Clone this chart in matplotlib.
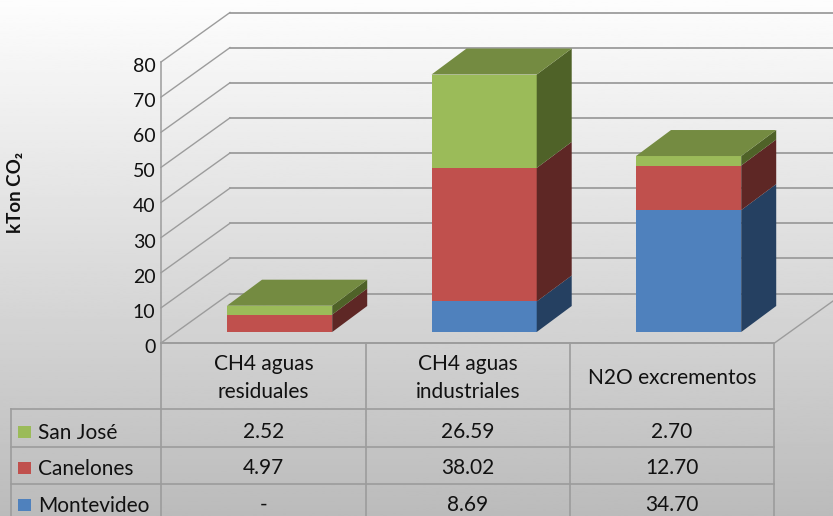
import numpy as np
import matplotlib
matplotlib.use('Agg')
import matplotlib.pyplot as plt
from matplotlib.patches import Polygon, Rectangle
from matplotlib.transforms import Affine2D

plt.rcParams['font.family'] = ['Lato', 'DejaVu Sans']

categories = ['CH4 aguas\nresiduales', 'CH4 aguas\nindustriales', 'N2O excrementos']
series = ['San José', 'Canelones', 'Montevideo']
san_jose = [2.52, 26.59, 2.70]
canelones = [4.97, 38.02, 12.70]
montevideo = [0, 8.69, 34.70]
table_rows = [['2.52', '26.59', '2.70'],
              ['4.97', '38.02', '12.70'],
              ['-', '8.69', '34.70']]
yticks = list(range(0, 90, 10))

front_cols = {'San José': '#9BBB59', 'Canelones': '#C0504D', 'Montevideo': '#4F81BD'}
side_cols = {'San José': '#4F6228', 'Canelones': '#5E2725', 'Montevideo': '#254061'}
top_col = '#748B41'
line_col = '#9C9C9C'
text_col = '#111111'

fig = plt.figure(figsize=(8.33, 5.16), dpi=100)

# background and table live in a pixel sized axes
bg = fig.add_axes([0, 0, 1, 1], zorder=0)
bg.set_xlim(0, 833)
bg.set_ylim(516, 0)
bg.axis('off')
grad = np.linspace(253, 187, 256).reshape(-1, 1)
bg.imshow(grad, cmap='gray', vmin=0, vmax=255, extent=[0, 833, 516, 0], aspect='auto')

# plot area is the front plane of the 3d box
ax = fig.add_axes([161 / 833, (516 - 343) / 516, 613.5 / 833, 281 / 516], zorder=1)
ax.patch.set_alpha(0)
ax.set_xlim(-0.5, 2.5)
ax.set_ylim(0, 80)
for s in ['top', 'right', 'bottom']:
    ax.spines[s].set_visible(False)
ax.spines['left'].set_color(line_col)
ax.spines['left'].set_linewidth(1.1)
ax.set_xticks([])
ax.set_yticks(yticks)
ax.tick_params(axis='y', length=0, pad=4, labelsize=14, labelcolor=text_col)
for lab in ax.get_yticklabels():
    lab.set_transform(lab.get_transform() + Affine2D().translate(0, -3))

depth_x = 69 / 204.5
depth_y = 49.5 / 3.5125
bar_depth_x = 35 / 204.5
bar_depth_y = 26 / 3.5125
shift_x = 0.08
shift_y = 11 / 3.5125
bar_w = 105.2 / 204.5

for v in yticks:
    ax.plot([-0.5, -0.5 + depth_x], [v, v + depth_y], color=line_col, lw=1.0, clip_on=False, zorder=1)
    ax.plot([-0.5 + depth_x, 3.0], [v + depth_y, v + depth_y], color=line_col, lw=1.3, clip_on=False, zorder=1)
ax.plot([2.5, 2.5 + depth_x], [0, depth_y], color=line_col, lw=1.0, clip_on=False, zorder=1)

x = np.arange(len(categories))
stack = [('Montevideo', montevideo), ('Canelones', canelones), ('San José', san_jose)]
base = np.zeros(3)
for name, vals in stack:
    vals = np.array(vals)
    ax.bar(x + shift_x, vals, bar_w, bottom=base + shift_y, color=front_cols[name], zorder=3, clip_on=False)
    for i in x:
        if vals[i] == 0:
            continue
        r = i + shift_x + bar_w / 2
        b = base[i] + shift_y
        t = b + vals[i]
        ax.add_patch(Polygon([(r, b), (r, t), (r + bar_depth_x, t + bar_depth_y), (r + bar_depth_x, b + bar_depth_y)],
                             closed=True, color=side_cols[name], lw=0, zorder=3, clip_on=False))
    base = base + vals
for i in x:
    l = i + shift_x - bar_w / 2
    r = i + shift_x + bar_w / 2
    t = base[i] + shift_y
    ax.add_patch(Polygon([(l, t), (r, t), (r + bar_depth_x, t + bar_depth_y), (l + bar_depth_x, t + bar_depth_y)],
                         closed=True, color=top_col, lw=0, zorder=4, clip_on=False))

fig.text(16 / 833, 1 - 192 / 516, 'kTon CO₂', rotation=90, fontsize=13.5, fontweight='bold',
         ha='center', va='center', color=text_col)

# data table
col_x = [161, 366, 570, 774]
row_y = [343, 409, 447, 484]
for cx in col_x:
    bg.plot([cx, cx], [343, 516], color=line_col, lw=1.2, zorder=2)
bg.plot([161, 774], [343, 343], color=line_col, lw=1.4, zorder=2)
for ry in row_y[1:]:
    bg.plot([11, 774], [ry, ry], color=line_col, lw=1.2, zorder=2)
bg.plot([11, 11], [409, 516], color=line_col, lw=1.2, zorder=2)

for i, c in enumerate(categories):
    bg.text((col_x[i] + col_x[i + 1]) / 2, 378, c, fontsize=15, ha='center', va='center',
            color=text_col, linespacing=1.45, zorder=3)
row_cy = [432, 468, 505]
for j, name in enumerate(series):
    bg.add_patch(Rectangle((18, row_cy[j] - 6), 13, 12, color=front_cols[name], lw=0, zorder=3))
    bg.text(38, row_cy[j] + 1, name, fontsize=15, ha='left', va='center', color=text_col, zorder=3)
    for i in range(3):
        bg.text((col_x[i] + col_x[i + 1]) / 2, row_cy[j], table_rows[j][i], fontsize=15, ha='center', va='center',
                color=text_col, zorder=3)

bg.set_xlim(0, 833)
bg.set_ylim(516, 0)
fig.savefig('out.png', dpi=100)
